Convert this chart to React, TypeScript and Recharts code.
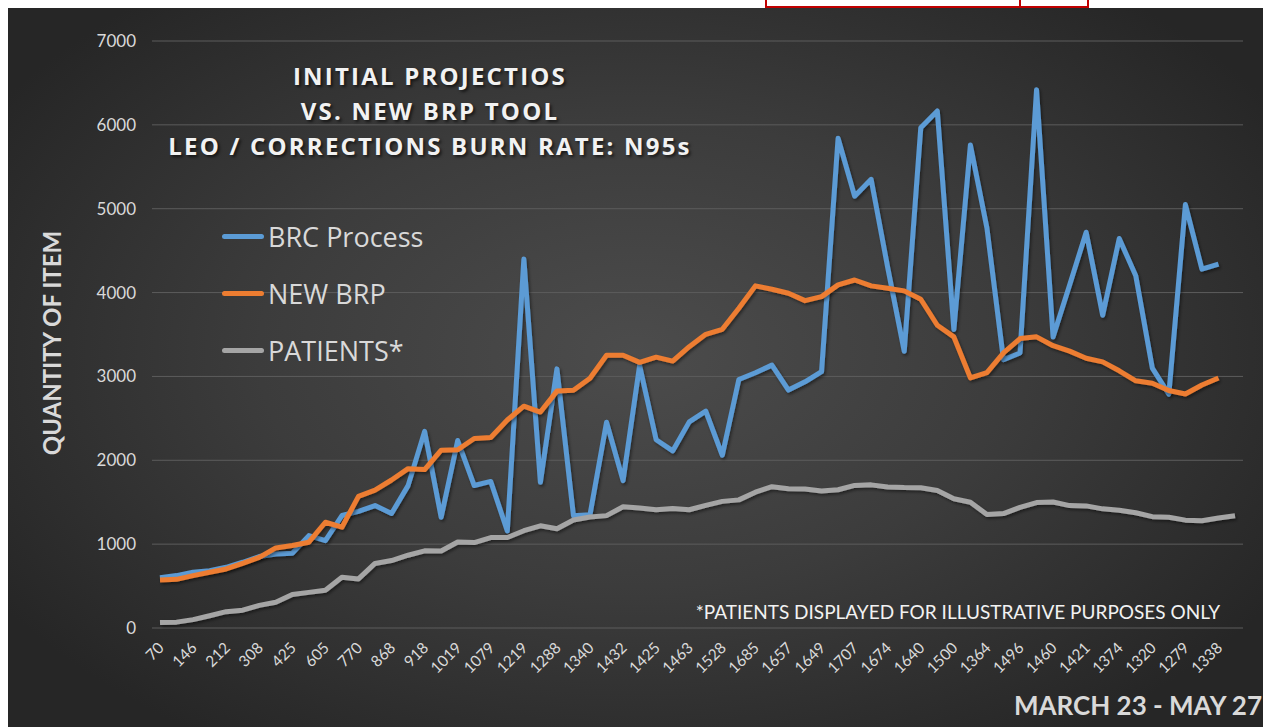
import React from 'react';
import { LineChart, Line, XAxis, YAxis, CartesianGrid, Legend } from 'recharts';

const tickLabels = ['70','146','212','308','425','605','770','868','918','1019','1079','1219','1288','1340','1432','1425','1463','1528','1685','1657','1649','1707','1674','1640','1500','1364','1496','1460','1421','1374','1320','1279','1338'];

const brcProcess = [600,625,665,684,724,784,852,883,891,1102,1042,1341,1390,1460,1365,1698,2345,1320,2236,1699,1748,1157,4400,1737,3090,1339,1351,2454,1757,3131,2245,2112,2458,2586,2060,2964,3044,3135,2837,2936,3056,5840,5150,5350,4300,3300,5965,6165,3560,5760,4770,3200,3280,6420,3470,4090,4720,3730,4645,4200,3100,2790,5050,4280,4340];

const newBrp = [573,580,625,665,704,772,843,955,983,1023,1261,1202,1570,1645,1765,1900,1890,2120,2125,2260,2272,2480,2645,2575,2825,2835,2978,3253,3253,3168,3230,3183,3355,3502,3562,3813,4080,4040,3992,3904,3952,4092,4150,4080,4052,4020,3920,3610,3472,2982,3046,3281,3451,3472,3366,3302,3217,3174,3067,2948,2918,2833,2790,2897,2982];

const patients = [65,70,100,146,195,212,270,308,400,425,450,605,585,770,804,868,920,918,1025,1019,1078,1079,1160,1219,1183,1288,1323,1340,1445,1432,1410,1425,1410,1463,1510,1528,1620,1685,1661,1657,1633,1649,1700,1707,1681,1674,1673,1640,1541,1500,1354,1364,1439,1496,1503,1460,1456,1421,1405,1374,1328,1320,1286,1279,1311,1338];

const yTicks = [0, 1000, 2000, 3000, 4000, 5000, 6000, 7000];

const data = patients.map((p, i) => ({
  idx: i,
  brc: brcProcess[i] !== undefined ? brcProcess[i] : null,
  brp: newBrp[i] !== undefined ? newBrp[i] : null,
  patients: p,
}));

const BLUE = '#5B9BD5';
const ORANGE = '#ED7D31';
const GRAY = '#A5A5A5';
const TEXT = '#d9d9d9';

const XTick = (props: any) => {
  const { x, y, payload } = props;
  const i = Number(payload.value);
  if (i % 2 !== 0) return <g />;
  return (
    <g transform={`translate(${x + 1},${y + 17}) rotate(-45)`}>
      <text textAnchor="end" dy="0.35em" fill={TEXT} fontSize={15.5} fontFamily="Lato">
        {tickLabels[i / 2]}
      </text>
    </g>
  );
};

const renderLegend = (props: any) => {
  const { payload } = props;
  return (
    <div>
      {payload.map((entry: any) => (
        <div key={entry.value} style={{ display: 'flex', alignItems: 'center', height: 57 }}>
          <div style={{ width: 42, height: 5, borderRadius: 3, background: entry.color, marginRight: 4 }} />
          <span style={{ fontFamily: 'Open Sans', fontSize: 27, color: TEXT, whiteSpace: 'nowrap' }}>{entry.value}</span>
        </div>
      ))}
    </div>
  );
};

export default function App() {
  return (
    <div>
      <div style={{ position: 'absolute', top: 0, left: 765, width: 256, height: 8, boxSizing: 'border-box', borderLeft: '2px solid #c00000', borderRight: '2px solid #c00000', borderBottom: '2px solid #c00000' }} />
      <div style={{ position: 'absolute', top: 0, left: 1021, width: 68, height: 8, boxSizing: 'border-box', borderRight: '2px solid #c00000', borderBottom: '2px solid #c00000' }} />
      <div
        style={{
          position: 'relative',
          width: 1255,
          height: 719,
          overflow: 'hidden',
          background: 'radial-gradient(ellipse 60% 65% at 50% 48%, #4c4c4c 0%, #3c3c3c 50%, #262626 100%)',
        }}
      >
        <LineChart width={1255} height={719} data={data} margin={{ top: 33, right: 20, left: 84, bottom: 0 }}>
          <defs>
            <filter id="lineShadow" x="-5%" y="-5%" width="110%" height="110%">
              <feDropShadow dx="1.5" dy="2" stdDeviation="1.5" floodColor="#000000" floodOpacity="0.45" />
            </filter>
          </defs>
          <CartesianGrid vertical={false} stroke="#5c5c5c" strokeWidth={1} />
          <XAxis
            dataKey="idx"
            type="category"
            interval={0}
            height={99}
            tickSize={0}
            tickMargin={0}
            axisLine={false}
            tickLine={false}
            padding={{ left: 8, right: 8 }}
            tick={<XTick />}
          />
          <YAxis
            domain={[0, 7000]}
            ticks={yTicks}
            width={60}
            tickSize={0}
            tickMargin={16}
            axisLine={false}
            tickLine={false}
            tick={{ fill: TEXT, fontSize: 17, fontFamily: 'Lato' }}
          />
          <Legend
            layout="vertical"
            align="center"
            verticalAlign="middle"
            content={renderLegend}
            wrapperStyle={{ left: 214, top: 200, width: 'auto' }}
          />
          <Line type="linear" dataKey="brc" name="BRC Process" stroke={BLUE} strokeWidth={5} dot={false} strokeLinejoin="round" filter="url(#lineShadow)" isAnimationActive={false} />
          <Line type="linear" dataKey="brp" name="NEW BRP" stroke={ORANGE} strokeWidth={5} dot={false} strokeLinejoin="round" filter="url(#lineShadow)" isAnimationActive={false} />
          <Line type="linear" dataKey="patients" name="PATIENTS*" stroke={GRAY} strokeWidth={5} dot={false} strokeLinejoin="round" filter="url(#lineShadow)" isAnimationActive={false} />
        </LineChart>
        <div
          style={{
            position: 'absolute', left: 122, top: 50, width: 600, textAlign: 'center',
            fontFamily: 'Open Sans', fontWeight: 700, fontSize: 24, letterSpacing: 2.2, lineHeight: '35px',
            color: '#f2f2f2', textShadow: '2px 2px 3px rgba(0,0,0,0.6)', whiteSpace: 'nowrap',
          }}
        >
          <div>INITIAL PROJECTIOS</div>
          <div>VS. NEW BRP TOOL</div>
          <div>LEO / CORRECTIONS BURN RATE: N95s</div>
        </div>
        <div
          style={{
            position: 'absolute', left: 44 - 150, top: 335 - 15, width: 300, height: 30, lineHeight: '30px',
            textAlign: 'center', transform: 'rotate(-90deg)', fontFamily: 'Lato', fontWeight: 700, fontSize: 24, color: TEXT,
          }}
        >
          QUANTITY OF ITEM
        </div>
        <div
          style={{
            position: 'absolute', right: 43, top: 592, lineHeight: '24px', whiteSpace: 'nowrap',
            fontFamily: 'Lato', fontSize: 19, color: '#f2f2f2',
          }}
        >
          *PATIENTS DISPLAYED FOR ILLUSTRATIVE PURPOSES ONLY
        </div>
        <div
          style={{
            position: 'absolute', right: 1, top: 680, lineHeight: '34px', whiteSpace: 'nowrap',
            fontFamily: 'Lato', fontWeight: 700, fontSize: 26, color: TEXT,
          }}
        >
          MARCH 23 - MAY 27
        </div>
      </div>
    </div>
  );
}
